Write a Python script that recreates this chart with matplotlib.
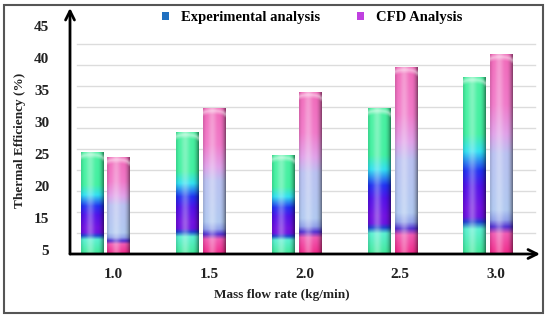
import numpy as np
import matplotlib
matplotlib.use("Agg")
import matplotlib.pyplot as plt
from matplotlib.colors import to_rgb
from matplotlib.patches import Rectangle, Patch

rates = ["1.0", "1.5", "2.0", "2.5", "3.0"]
exp_vals = [25.2, 28.3, 24.7, 32.1, 37.0]
cfd_vals = [24.5, 32.1, 34.6, 38.5, 40.5]
ytick_vals = [10, 15, 20, 25, 30, 35, 40, 45]
ytick_txt = ["5", "15", "20", "25", "30", "35", "40", "45"]

# vertical colour stops (fraction of bar height)
exp_stops = [0, 0.14, 0.18, 0.21, 0.26, 0.38, 0.47, 0.58, 0.68, 1.0]
exp_cols = ['#40e898', '#58f0d0', '#2040d0', '#6a10e0', '#7010e0', '#5010e8',
            '#2030f0', '#30e0f0', '#40f0a0', '#48f0a0']
cfd_stops = [0, 0.1, 0.135, 0.17, 0.22, 0.5, 0.6, 0.75, 1.0]
cfd_cols = ['#f02888', '#f058b0', '#5030d0', '#90a0e8', '#b0c8f0', '#b8c0f0',
            '#e0a0e8', '#f078c8', '#f068b8']

plt.rcParams['font.family'] = ['Liberation Serif', 'DejaVu Serif']
plt.rcParams['font.weight'] = 'bold'

fig = plt.figure(figsize=(5.5, 3.2), dpi=100)
ax = fig.add_axes([70/550, 1-254/320, 470/550, 246/320])
ybot = 9.375
ytop = 47.8

# grid lines come from a 0-50 scale behind the bars
ax2 = ax.twinx()
ax2.set_ylim(0, 50*(254-8)/(254-44))
for g in range(5, 55, 5):
    ax2.axhline(g, xmin=0.015, xmax=0.99, color='#dcdcdc', lw=1)
ax2.set_yticks([])
for s in ax2.spines.values():
    s.set_visible(False)
ax2.set_zorder(0)
ax.set_zorder(1)
ax.patch.set_visible(False)


def bar_image(stops, cols, height):
    ny, nx = 300, 40
    fy = np.linspace(0, 1, ny)
    rgb = np.array([to_rgb(c) for c in cols])
    col = np.stack([np.interp(fy, stops, rgb[:, k]) for k in range(3)], axis=1)
    fx = np.linspace(0, 1, nx)
    light = 0.32*np.exp(-((fx-0.4)/0.18)**2)
    dark = 0.45*np.clip((fx-0.72)/0.28, 0, 1)**2 + 0.12*np.clip((0.12-fx)/0.12, 0, 1)
    img = col[:, None, :]*(1-dark[None, :, None])
    img = img*(1-light[None, :, None]) + light[None, :, None]
    # soft rounded highlight at the top
    dy = (height - fy*height)[:, None]
    curve = 0.9 - 0.5*np.sqrt(np.clip(1-((fx-0.45)/0.5)**2, 0, 1))[None, :]
    cap = np.clip(1 - np.abs(dy-curve)/0.6, 0, 1)*0.5
    img = img*(1-cap[:, :, None]) + cap[:, :, None]
    return np.clip(img, 0, 1)


w = 0.24
off = 0.14
for i in range(len(rates)):
    for v, st, cl, dx in [(exp_vals[i], exp_stops, exp_cols, -off),
                          (cfd_vals[i], cfd_stops, cfd_cols, off)]:
        h = v - ybot
        ax.imshow(bar_image(st, cl, h), origin='lower', aspect='auto',
                  extent=[i+dx-w/2, i+dx+w/2, ybot, v], zorder=2,
                  interpolation='bilinear')

ax.set_xlim(-0.37, 4.54)
ax.set_ylim(ybot, ytop)
ax.set_yticks(ytick_vals)
ax.set_yticklabels(ytick_txt, fontsize=11, fontweight='bold', color='#222222')
ax.set_xticks(np.arange(len(rates)) + 0.08)
ax.set_xticklabels(rates, fontsize=11, fontweight='bold', color='#222222')
ax.tick_params(axis='y', length=0, pad=15)
ax.tick_params(axis='x', length=0, pad=10)
for s in ax.spines.values():
    s.set_visible(False)

ax.annotate('', xy=(0, 1), xytext=(0, 0), xycoords='axes fraction',
            arrowprops=dict(arrowstyle='->', lw=2, color='black',
                            mutation_scale=16, shrinkA=0, shrinkB=0))
ax.annotate('', xy=(1, 0), xytext=(0, 0), xycoords='axes fraction',
            arrowprops=dict(arrowstyle='->', lw=2, color='black',
                            mutation_scale=16, shrinkA=0, shrinkB=0))

fig.text(20/550, 1-140/320, 'Thermal Efficiency (%)', rotation=90,
         ha='center', va='center', fontsize=9.5, fontweight='bold', color='#222222')
fig.text(282/550, 1-295/320, 'Mass flow rate (kg/min)', ha='center',
         va='center', fontsize=9.5, fontweight='bold', color='#222222')

handles = [Patch(facecolor='#2070c0', edgecolor='none', label='Experimental analysis'),
           Patch(facecolor='#c040e0', edgecolor='none', label='CFD Analysis')]
fig.legend(handles=handles, loc='center', bbox_to_anchor=(312/550, 1-18/320),
           ncol=2, frameon=False, fontsize=10.5, handlelength=0.5,
           handleheight=0.5, columnspacing=2.5, handletextpad=0.8)

fig.patches.append(Rectangle((4/550, 1-313/320), 539/550, 308/320,
                             transform=fig.transFigure, fill=False,
                             edgecolor='#555555', lw=1.5))

fig.savefig('out.png', dpi=100)
